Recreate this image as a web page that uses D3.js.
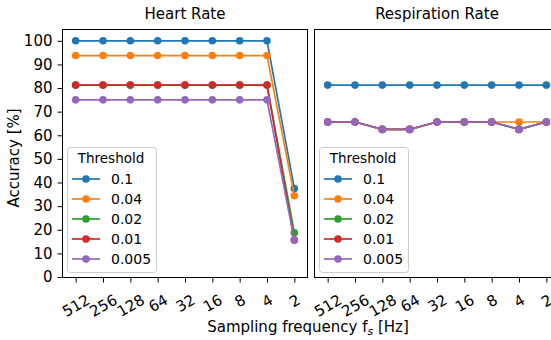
<!DOCTYPE html>
<html><head><meta charset="utf-8">
<script src="https://cdn.jsdelivr.net/npm/d3@7"></script>
<style>body{margin:0;background:#fff}text{font-family:"DejaVu Sans",sans-serif}</style>
</head><body><svg id="c" width="551" height="340"></svg>
<script>
const categories = ["512","256","128","64","32","16","8","4","2"];
const thresholds = ["0.1","0.04","0.02","0.01","0.005"];
const colors = ["#1f77b4","#ff7f0e","#2ca02c","#d62728","#9467bd"];
const yTicks = [0,10,20,30,40,50,60,70,80,90,100];
const heartRate = [
  [100,100,100,100,100,100,100,100,37.5],
  [93.75,93.75,93.75,93.75,93.75,93.75,93.75,93.75,34.375],
  [81.25,81.25,81.25,81.25,81.25,81.25,81.25,81.25,18.75],
  [81.25,81.25,81.25,81.25,81.25,81.25,81.25,81.25,15.625],
  [75,75,75,75,75,75,75,75,15.625]
];
const respirationRate = [
  [81.25,81.25,81.25,81.25,81.25,81.25,81.25,81.25,81.25],
  [65.625,65.625,62.5,62.5,65.625,65.625,65.625,65.625,65.625],
  [65.625,65.625,62.5,62.5,65.625,65.625,65.625,62.5,65.625],
  [65.625,65.625,62.5,62.5,65.625,65.625,65.625,62.5,65.625],
  [65.625,65.625,62.5,62.5,65.625,65.625,65.625,62.5,65.625]
];
const panels = [
  {title:"Heart Rate", data:heartRate, x0:62, showY:true},
  {title:"Respiration Rate", data:respirationRate, x0:314, showY:false}
];
const svg = d3.select("#c");
const plotTop = 29, plotBottom = 277, pw = 246;
const y = d3.scaleLinear().domain([0,105]).range([plotBottom, plotTop]);
const FS = 15, LFS = 14;

panels.forEach(p => {
  const x = d3.scalePoint().domain(categories).range([p.x0, p.x0+pw]).padding(0.5);
  const g = svg.append("g");
  const clipId = "clip"+p.x0;
  svg.append("clipPath").attr("id", clipId).append("rect")
    .attr("x", p.x0-6).attr("y", plotTop-6).attr("width", pw+12).attr("height", plotBottom-plotTop+12);
  const plot = g.append("g").attr("clip-path", `url(#${clipId})`);
  const line = d3.line().x((d,i)=>x(categories[i])).y(d=>y(d));
  p.data.forEach((s, si) => {
    plot.append("path").attr("d", line(s)).attr("fill","none")
      .attr("stroke", colors[si]).attr("stroke-width", 1.7);
    plot.selectAll(null).data(s).enter().append("circle")
      .attr("cx",(d,i)=>x(categories[i])).attr("cy", d=>y(d)).attr("r", 3.8)
      .attr("fill", colors[si]);
  });
  g.append("rect").attr("x", p.x0+0.5).attr("y", plotTop+0.5).attr("width", pw-1).attr("height", plotBottom-plotTop)
    .attr("fill","none").attr("stroke","#000").attr("stroke-width",1);
  const xa = g.append("g").attr("transform", `translate(0,${plotBottom+0.5})`)
    .call(d3.axisBottom(x).tickSize(5).tickSizeOuter(0));
  xa.select(".domain").remove();
  xa.selectAll(".tick line").attr("stroke","#000");
  xa.selectAll(".tick text").each(function(d){
    const t = d3.select(this);
    t.attr("font-size", FS).attr("fill","#000").attr("font-family","DejaVu Sans")
      .attr("text-anchor","middle").attr("dominant-baseline","central").attr("dy",null);
    const w = this.getComputedTextLength();
    const cy = 292 - plotBottom + (w*0.5 + 14*0.866)/2;
    t.attr("y", 0).attr("transform", `translate(0,${cy}) rotate(-30)`);
  });
  if (p.showY) {
    const ya = g.append("g").attr("transform", `translate(${p.x0+0.5},0)`)
      .call(d3.axisLeft(y).tickValues(yTicks).tickSize(5).tickPadding(5));
    ya.select(".domain").remove();
    ya.selectAll(".tick line").attr("stroke","#000");
    ya.selectAll(".tick text").attr("font-size", FS).attr("fill","#000").attr("font-family","DejaVu Sans");
  }
  g.append("text").attr("x", p.x0+pw/2).attr("y", 19).attr("text-anchor","middle")
    .attr("font-size", FS).text(p.title);
  const lx = p.x0+5, ly = 147;
  const lg = g.append("g");
  lg.append("rect").attr("x", lx+0.5).attr("y", ly+0.5).attr("width", 89).attr("height", 125)
    .attr("rx", 3).attr("fill","#fff").attr("fill-opacity",0.8).attr("stroke","#cccccc");
  lg.append("text").attr("x", lx+44).attr("y", ly+16).attr("text-anchor","middle")
    .attr("font-size", LFS-0.5).text("Threshold");
  thresholds.forEach((t,i)=>{
    const yy = ly + 32 + i*20;
    lg.append("line").attr("x1", lx+5).attr("x2", lx+33).attr("y1", yy).attr("y2", yy)
      .attr("stroke", colors[i]).attr("stroke-width", 1.7);
    lg.append("circle").attr("cx", lx+19).attr("cy", yy).attr("r", 3.8).attr("fill", colors[i]);
    lg.append("text").attr("x", lx+44).attr("y", yy).attr("dominant-baseline","central")
      .attr("font-size", LFS).text(t);
  });
});
svg.append("text").attr("transform","translate(19,158) rotate(-90)").attr("text-anchor","middle")
  .attr("font-size", FS).text("Accuracy [%]");
const xl = svg.append("text").attr("x", 308).attr("y", 332).attr("text-anchor","middle").attr("font-size", FS);
xl.append("tspan").text("Sampling frequency f");
xl.append("tspan").attr("font-size", 11).attr("font-style","italic").attr("dy", 3).text("s");
xl.append("tspan").attr("dy", -3).text(" [Hz]");
</script></body></html>
